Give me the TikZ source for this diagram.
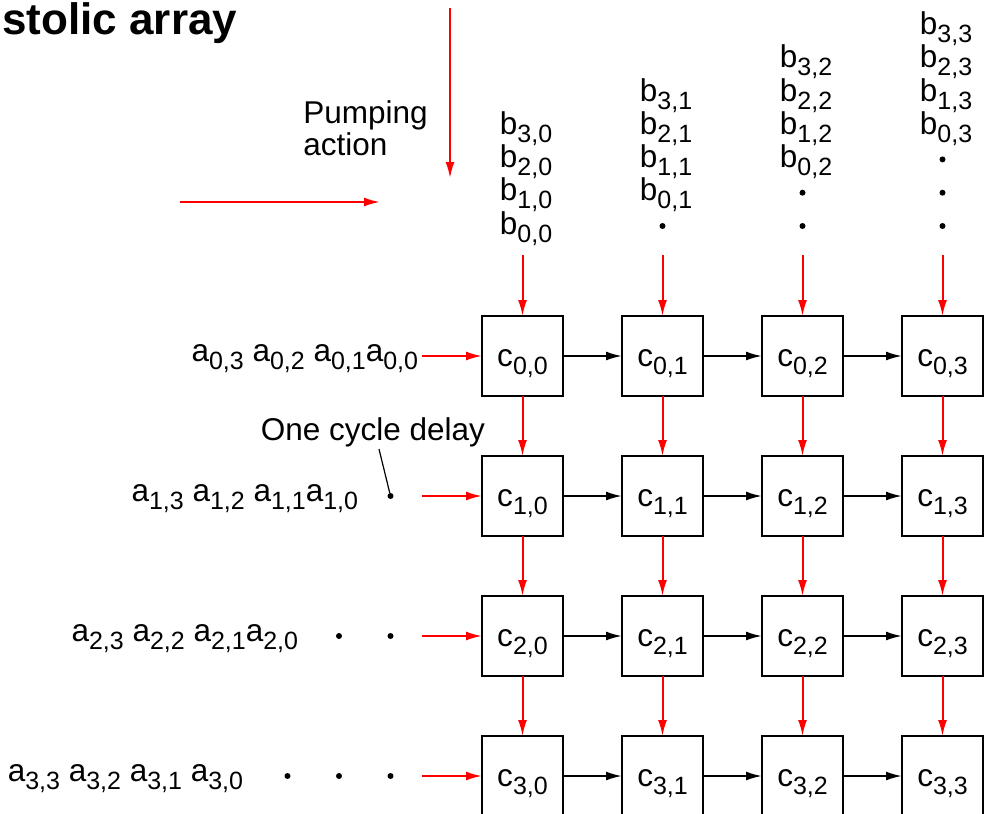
\documentclass[tikz,border=0pt]{standalone}
\usepackage{fontspec}
\setmainfont{Liberation Sans}
\usetikzlibrary{arrows.meta, positioning}
\definecolor{pred}{HTML}{FF0000}
\newcommand{\elem}[2]{#1\raisebox{-4pt}[0pt][0pt]{\fontsize{12.5}{12.5}\selectfont #2}}
\tikzstyle{cell} = [rectangle, draw, line width=1.2pt, minimum width=40.5pt, minimum height=40pt, inner sep=0pt, outer sep=0pt, text height=12pt, text depth=1.3pt]
\tikzstyle{stack} = [align=left, inner sep=0pt, anchor=south west]
\tikzstyle{feed} = [inner sep=0pt, anchor=base east]
\tikzstyle{dot} = [circle, fill, inner sep=0pt, outer sep=0pt, minimum size=3pt]
\tikzstyle{pump} = [line width=1pt, pred, -{Latex[length=8pt, width=4.5pt]}]
\tikzstyle{pass} = [line width=1pt, -{Latex[length=8pt, width=4.5pt]}]

\begin{document}
\begin{tikzpicture}[x=0.5pt, y=-0.5pt, node distance=30pt and 29.5pt, font=\fontsize{15.75}{16.65}\selectfont]
  \useasboundingbox (0,0) rectangle (987,814);
  \node (title) [anchor=base west, inner sep=0pt, font=\fontsize{22}{24}\selectfont\bfseries] at (2,34) {stolic array};
  % processing cells
  \node (c00) [cell] at (522.5,356) {\elem{c}{0,0}};
  \node (c01) [cell, right=of c00] {\elem{c}{0,1}};
  \node (c02) [cell, right=of c01] {\elem{c}{0,2}};
  \node (c03) [cell, right=of c02] {\elem{c}{0,3}};
  \node (c10) [cell, below=of c00] {\elem{c}{1,0}};
  \node (c11) [cell, right=of c10] {\elem{c}{1,1}};
  \node (c12) [cell, right=of c11] {\elem{c}{1,2}};
  \node (c13) [cell, right=of c12] {\elem{c}{1,3}};
  \node (c20) [cell, below=of c10] {\elem{c}{2,0}};
  \node (c21) [cell, right=of c20] {\elem{c}{2,1}};
  \node (c22) [cell, right=of c21] {\elem{c}{2,2}};
  \node (c23) [cell, right=of c22] {\elem{c}{2,3}};
  \node (c30) [cell, below=of c20] {\elem{c}{3,0}};
  \node (c31) [cell, right=of c30] {\elem{c}{3,1}};
  \node (c32) [cell, right=of c31] {\elem{c}{3,2}};
  \node (c33) [cell, right=of c32] {\elem{c}{3,3}};
  % b columns
  \node (b0) [stack] at ([xshift=-11.5pt, yshift=40.5pt]c00.north) {\elem{b}{3,0}\\\elem{b}{2,0}\\\elem{b}{1,0}\\\elem{b}{0,0}};
  \node (b1) [stack] at ([xshift=-11.5pt, yshift=57.15pt]c01.north) {\elem{b}{3,1}\\\elem{b}{2,1}\\\elem{b}{1,1}\\\elem{b}{0,1}};
  \node (b2) [stack] at ([xshift=-11.5pt, yshift=73.8pt]c02.north) {\elem{b}{3,2}\\\elem{b}{2,2}\\\elem{b}{1,2}\\\elem{b}{0,2}};
  \node (b3) [stack] at ([xshift=-11.5pt, yshift=90.45pt]c03.north) {\elem{b}{3,3}\\\elem{b}{2,3}\\\elem{b}{1,3}\\\elem{b}{0,3}};
  \node (d01) [dot, above=43.5pt of c01] {};
  \node (d02) [dot, above=43.5pt of c02] {};
  \node (e02) [dot, above=13.65pt of d02] {};
  \node (d03) [dot, above=43.5pt of c03] {};
  \node (e03) [dot, above=13.65pt of d03] {};
  \node (f03) [dot, above=13.65pt of e03] {};
  % a rows
  \node (a0) [feed] at ([xshift=-31.75pt, yshift=-2.85pt]c00.west) {\elem{a}{0,3} \elem{a}{0,2} \elem{a}{0,1}\elem{a}{0,0}};
  \node (a1) [feed] at ([xshift=-61.75pt, yshift=-2.85pt]c10.west) {\elem{a}{1,3} \elem{a}{1,2} \elem{a}{1,1}\elem{a}{1,0}};
  \node (a2) [feed] at ([xshift=-91.75pt, yshift=-2.85pt]c20.west) {\elem{a}{2,3} \elem{a}{2,2} \elem{a}{2,1}\elem{a}{2,0}};
  \node (a3) [feed] at ([xshift=-119.25pt, yshift=-2.85pt]c30.west) {\elem{a}{3,3} \elem{a}{3,2} \elem{a}{3,1} \elem{a}{3,0}};
  \node (r1a) [dot, left=44.25pt of c10] {};
  \node (r2a) [dot, left=44.25pt of c20] {};
  \node (r2b) [dot, left=22.75pt of r2a] {};
  \node (r3a) [dot, left=44.25pt of c30] {};
  \node (r3b) [dot, left=22.75pt of r3a] {};
  \node (r3c) [dot, left=22.75pt of r3b] {};
  % labels
  \node (pumping) [anchor=north west, align=left, inner sep=0pt, font=\fontsize{15.75}{16}\selectfont] at (303,100) {Pumping\\action};
  \node (delay) [anchor=base west, inner sep=0pt] at (260.5,440) {One cycle delay};
  \coordinate (lead) at (379,449);
  \coordinate (pv0) at (450,8);
  \coordinate (pv1) at (450,178);
  \coordinate (ph0) at (180,202);
  \coordinate (ph1) at (380,202);
  \coordinate (t0) at ([yshift=30.5pt]c00.north);
  \coordinate (t1) at ([yshift=30.5pt]c01.north);
  \coordinate (t2) at ([yshift=30.5pt]c02.north);
  \coordinate (t3) at ([yshift=30.5pt]c03.north);
  \coordinate (l0) at ([xshift=-30pt]c00.west);
  \coordinate (l1) at ([xshift=-30pt]c10.west);
  \coordinate (l2) at ([xshift=-30pt]c20.west);
  \coordinate (l3) at ([xshift=-30pt]c30.west);
  \draw [pump] (pv0) -- (pv1);
  \draw [pump] (ph0) -- (ph1);
  \draw [line width=0.6pt] (lead) -- (r1a);
  \draw [pump] (t0) -- (c00);
  \draw [pump] (t1) -- (c01);
  \draw [pump] (t2) -- (c02);
  \draw [pump] (t3) -- (c03);
  \draw [pump] (l0) -- (c00);
  \draw [pump] (l1) -- (c10);
  \draw [pump] (l2) -- (c20);
  \draw [pump] (l3) -- (c30);
  \draw [pump] (c00) -- (c10);
  \draw [pump] (c01) -- (c11);
  \draw [pump] (c02) -- (c12);
  \draw [pump] (c03) -- (c13);
  \draw [pump] (c10) -- (c20);
  \draw [pump] (c11) -- (c21);
  \draw [pump] (c12) -- (c22);
  \draw [pump] (c13) -- (c23);
  \draw [pump] (c20) -- (c30);
  \draw [pump] (c21) -- (c31);
  \draw [pump] (c22) -- (c32);
  \draw [pump] (c23) -- (c33);
  \draw [pass] (c00) -- (c01);
  \draw [pass] (c01) -- (c02);
  \draw [pass] (c02) -- (c03);
  \draw [pass] (c10) -- (c11);
  \draw [pass] (c11) -- (c12);
  \draw [pass] (c12) -- (c13);
  \draw [pass] (c20) -- (c21);
  \draw [pass] (c21) -- (c22);
  \draw [pass] (c22) -- (c23);
  \draw [pass] (c30) -- (c31);
  \draw [pass] (c31) -- (c32);
  \draw [pass] (c32) -- (c33);
\end{tikzpicture}
\end{document}
